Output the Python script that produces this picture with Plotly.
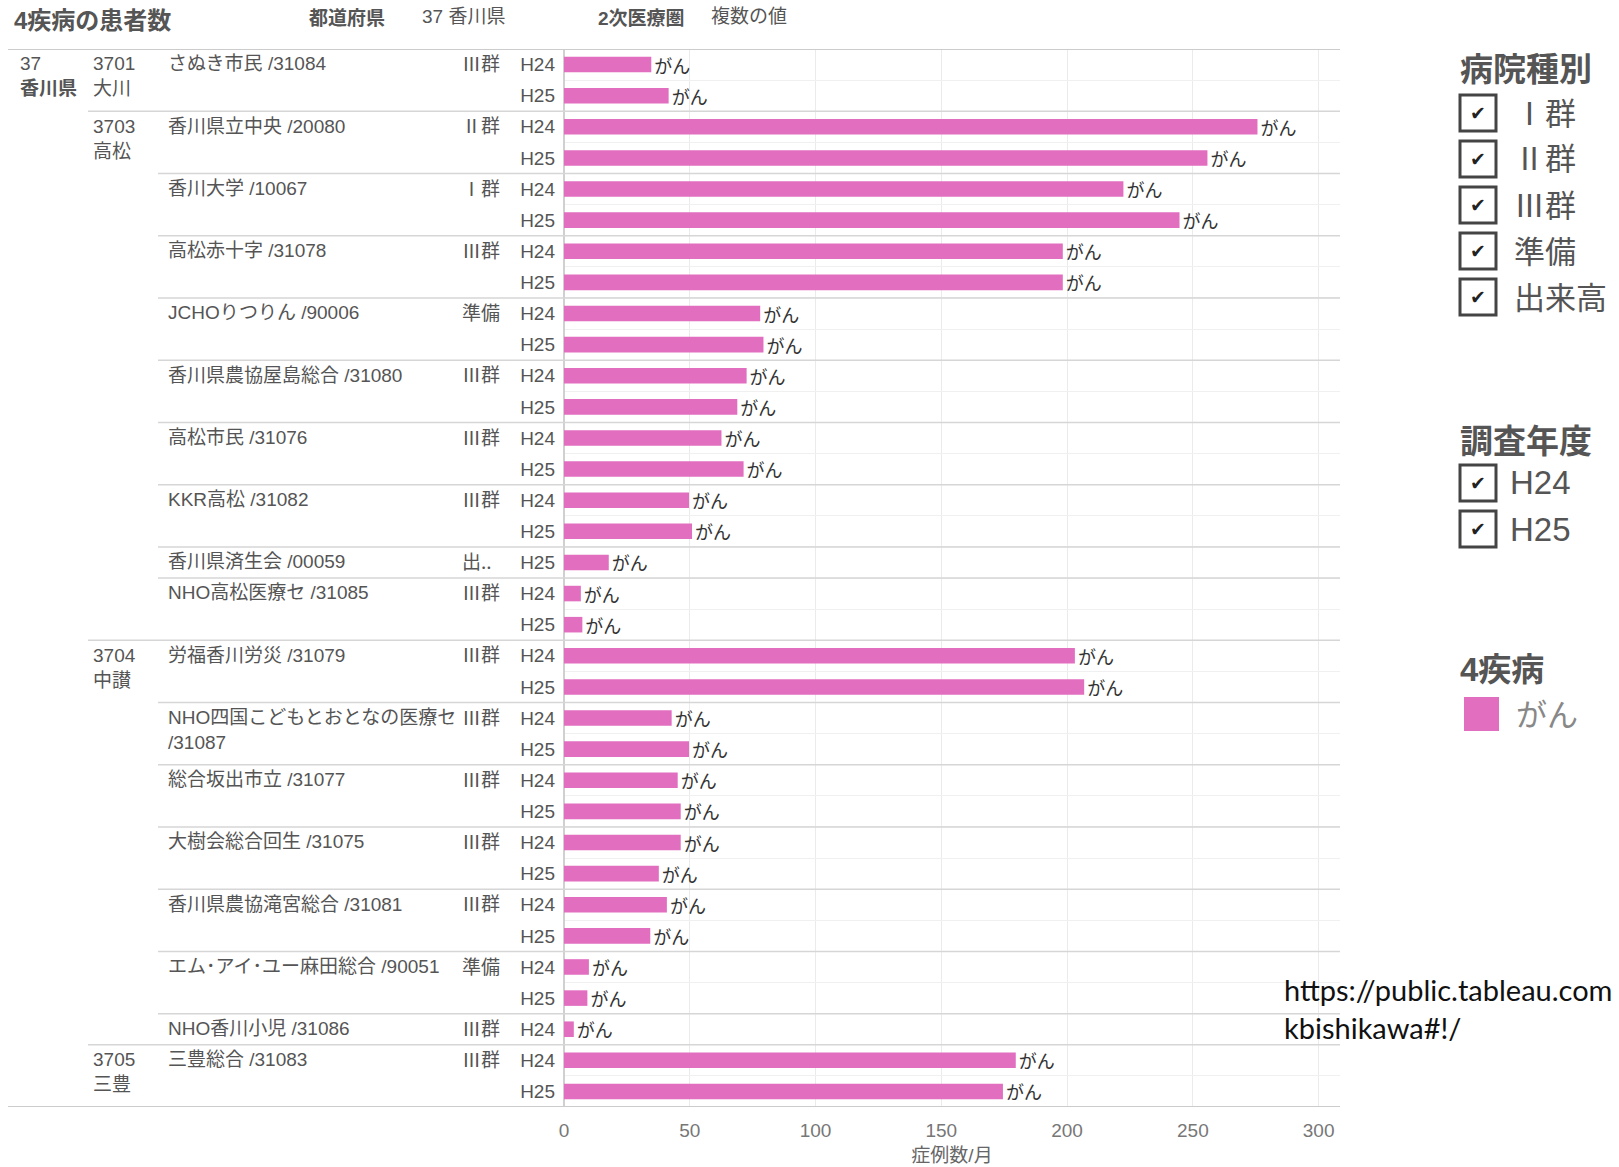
import plotly.graph_objects as go

# ---------------- data ----------------
title_text = "4疾病の患者数"
filter_labels = ["都道府県", "2次医療圏"]
filter_values = ["37 香川県", "複数の値"]

prefecture_code = "37"
prefecture_name = "香川県"

hospital_names = [
    "さぬき市民 /31084",
    "香川県立中央 /20080",
    "香川大学 /10067",
    "高松赤十字 /31078",
    "JCHOりつりん /90006",
    "香川県農協屋島総合 /31080",
    "高松市民 /31076",
    "KKR高松 /31082",
    "香川県済生会 /00059",
    "NHO高松医療セ /31085",
    "労福香川労災 /31079",
    "NHO四国こどもとおとなの医療セ /31087",
    "総合坂出市立 /31077",
    "大樹会総合回生 /31075",
    "香川県農協滝宮総合 /31081",
    "エム･アイ･ユー麻田総合 /90051",
    "NHO香川小児 /31086",
    "三豊総合 /31083",
]
hospital_region_codes = ["3701", "3703", "3703", "3703", "3703", "3703", "3703", "3703", "3703",
                         "3703", "3704", "3704", "3704", "3704", "3704", "3704", "3704", "3705"]
region_names = {"3701": "大川", "3703": "高松", "3704": "中讃", "3705": "三豊"}
hospital_groups = ["Ⅲ群", "Ⅱ群", "Ⅰ群", "Ⅲ群", "準備", "Ⅲ群", "Ⅲ群", "Ⅲ群", "出..",
                   "Ⅲ群", "Ⅲ群", "Ⅲ群", "Ⅲ群", "Ⅲ群", "Ⅲ群", "準備", "Ⅲ群", "Ⅲ群"]
years = ["H24", "H25"]
h24_values = [34.7, 275.7, 222.4, 198.3, 78.0, 72.6, 62.6, 49.7, None,
              6.7, 203.1, 42.8, 45.2, 46.4, 40.9, 9.9, 3.9, 179.6]
h25_values = [41.6, 255.8, 244.7, 198.3, 79.3, 68.9, 71.4, 50.9, 17.8,
              7.3, 206.8, 49.7, 46.4, 37.7, 34.3, 9.3, None, 174.5]
disease_label = "がん"
x_ticks = [0, 50, 100, 150, 200, 250, 300]
x_title = "症例数/月"

legend_group_title = "病院種別"
legend_group_items = ["Ⅰ群", "Ⅱ群", "Ⅲ群", "準備", "出来高"]
legend_year_title = "調査年度"
legend_year_items = ["H24", "H25"]
legend_disease_title = "4疾病"
source_lines = ["https://public.tableau.com", "kbishikawa#!/"]

# ---------------- styles / geometry ----------------
BAR_COLOR = "#E26EC0"
FONT = "Liberation Sans, Noto Sans CJK JP, sans-serif"
CJK = "Noto Sans CJK JP, sans-serif"
TXT = "#555555"
FIG_W, FIG_H = 1619, 1167
L, R, T, B = 564, 1340, 49, 1107


def px_x(px):
    return (px - L) / (R - L)


def px_y(py):
    return 1 - (py - T) / (B - T)


# ---------------- rows ----------------
row_keys, row_years, row_vals, row_hosp = [], [], [], []
for i, name in enumerate(hospital_names):
    for yr, v in zip(years, [h24_values[i], h25_values[i]]):
        if v is None:
            continue
        row_keys.append(f"{i}|{yr}")
        row_years.append(yr)
        row_vals.append(v)
        row_hosp.append(i)
n_rows = len(row_keys)

fig = go.Figure()
fig.add_trace(go.Bar(
    x=row_vals, y=row_keys, orientation="h",
    marker=dict(color=BAR_COLOR, line=dict(width=0)),
    text=[disease_label] * len(row_vals), textposition="outside", constraintext="none",
    textfont=dict(family=CJK, size=18, color="#333333"),
    cliponaxis=False, hoverinfo="x+y",
))

annotations = []
shapes = []

first_row = {}
for idx, h in enumerate(row_hosp):
    first_row.setdefault(h, idx)

OFF = 0.42
annotations.append(dict(xref="paper", yref="y", x=px_x(18), y=-OFF, xanchor="left", yanchor="top",
                        text=f"{prefecture_code}<br><b>{prefecture_name}</b>", showarrow=False, align="left",
                        font=dict(family=FONT, size=19, color=TXT)))

prev_region = None
for i, name in enumerate(hospital_names):
    r0 = first_row[i]
    reg = hospital_region_codes[i]
    if reg != prev_region:
        annotations.append(dict(xref="paper", yref="y", x=px_x(91), y=r0 - OFF, xanchor="left", yanchor="top",
                                text=f"{reg}<br>{region_names[reg]}", showarrow=False, align="left",
                                font=dict(family=FONT, size=19, color=TXT)))
        if prev_region is not None:
            shapes.append(dict(type="line", xref="paper", yref="y", x0=px_x(88), x1=1,
                               y0=r0 - 0.5, y1=r0 - 0.5, line=dict(color="#d6d6d6", width=1.5)))
    elif i > 0:
        shapes.append(dict(type="line", xref="paper", yref="y", x0=px_x(158), x1=1,
                           y0=r0 - 0.5, y1=r0 - 0.5, line=dict(color="#d6d6d6", width=1.5)))
    prev_region = reg
    disp = name.replace(" /", "<br>/") if len(name) > 22 else name
    annotations.append(dict(xref="paper", yref="y", x=px_x(166), y=r0 - OFF, xanchor="left", yanchor="top",
                            text=disp, showarrow=False, align="left",
                            font=dict(family=FONT, size=19, color=TXT)))
    annotations.append(dict(xref="paper", yref="y", x=px_x(460), y=r0 - 0.06, xanchor="left", yanchor="middle",
                            text=hospital_groups[i], showarrow=False, align="left",
                            font=dict(family=CJK, size=19, color=TXT)))

for yv in [-0.5, n_rows - 0.5]:
    shapes.append(dict(type="line", xref="paper", yref="y", x0=px_x(8), x1=1,
                       y0=yv, y1=yv, line=dict(color="#cccccc", width=2)))

# header
annotations.append(dict(xref="paper", yref="paper", x=px_x(12), y=px_y(21), xanchor="left", yanchor="middle",
                        text=f"<b>{title_text}</b>", showarrow=False,
                        font=dict(family=FONT, size=24, color="#555555")))
hdr_x = [(307, 420), (596, 709)]
for (lx, vx), lab, val in zip(hdr_x, filter_labels, filter_values):
    annotations.append(dict(xref="paper", yref="paper", x=px_x(lx), y=px_y(19), xanchor="left", yanchor="middle",
                            text=f"<b>{lab}</b>", showarrow=False,
                            font=dict(family=FONT, size=19, color="#555555")))
    annotations.append(dict(xref="paper", yref="paper", x=px_x(vx), y=px_y(17), xanchor="left", yanchor="middle",
                            text=val, showarrow=False,
                            font=dict(family=FONT, size=19, color="#555555")))

# legends (right panel)
LEG_X = 1458
BOX = 36


def checkbox(cy):
    shapes.append(dict(type="rect", xref="paper", yref="paper",
                       x0=px_x(LEG_X + 2), x1=px_x(LEG_X + 2 + BOX),
                       y0=px_y(cy - BOX / 2), y1=px_y(cy + BOX / 2),
                       line=dict(color="#444444", width=3), fillcolor="white"))
    annotations.append(dict(xref="paper", yref="paper", x=px_x(LEG_X + 2 + BOX / 2), y=px_y(cy),
                            xanchor="center", yanchor="middle", text="<b>✔</b>", showarrow=False,
                            font=dict(family="DejaVu Sans", size=19, color="#222222")))


annotations.append(dict(xref="paper", yref="paper", x=px_x(LEG_X), y=px_y(67), xanchor="left", yanchor="middle",
                        text=f"<b>{legend_group_title}</b>", showarrow=False,
                        font=dict(family=CJK, size=33, color="#555555")))
for k, item in enumerate(legend_group_items):
    cy = 113 + k * 46
    checkbox(cy)
    annotations.append(dict(xref="paper", yref="paper", x=px_x(1512), y=px_y(cy - 2), xanchor="left", yanchor="middle",
                            text=item, showarrow=False, font=dict(family=CJK, size=31, color="#555555")))

annotations.append(dict(xref="paper", yref="paper", x=px_x(LEG_X), y=px_y(439), xanchor="left", yanchor="middle",
                        text=f"<b>{legend_year_title}</b>", showarrow=False,
                        font=dict(family=CJK, size=33, color="#555555")))
for k, item in enumerate(legend_year_items):
    cy = 483 + k * 46
    checkbox(cy)
    annotations.append(dict(xref="paper", yref="paper", x=px_x(1508), y=px_y(cy), xanchor="left", yanchor="middle",
                            text=item, showarrow=False, font=dict(family=FONT, size=33, color="#555555")))

annotations.append(dict(xref="paper", yref="paper", x=px_x(LEG_X), y=px_y(669), xanchor="left", yanchor="middle",
                        text=f"<b>{legend_disease_title}</b>", showarrow=False,
                        font=dict(family=FONT, size=33, color="#555555")))
shapes.append(dict(type="rect", xref="paper", yref="paper",
                   x0=px_x(1464), x1=px_x(1499), y0=px_y(731), y1=px_y(697),
                   line=dict(width=0), fillcolor=BAR_COLOR))
annotations.append(dict(xref="paper", yref="paper", x=px_x(1514), y=px_y(712), xanchor="left", yanchor="middle",
                        text=disease_label, showarrow=False, font=dict(family=CJK, size=31, color="#888888")))

# source url
for k, line in enumerate(source_lines):
    annotations.append(dict(xref="paper", yref="paper", x=px_x(1282), y=px_y(989 + k * 38), xanchor="left",
                            yanchor="middle", text=line, showarrow=False,
                            font=dict(family="Lato, Open Sans, sans-serif", size=29, color="#111111")))

fig.update_layout(
    width=FIG_W, height=FIG_H,
    margin=dict(l=L, r=FIG_W - R, t=T, b=FIG_H - B, autoexpand=False),
    paper_bgcolor="white", plot_bgcolor="white",
    showlegend=False, bargap=0.5,
    font=dict(family=FONT, color=TXT),
    annotations=annotations, shapes=shapes,
    xaxis=dict(range=[0, 308.5], tickvals=x_ticks, ticktext=[str(t) for t in x_ticks],
               showgrid=True, gridcolor="#ebebeb", gridwidth=1,
               zeroline=True, zerolinecolor="#d0d0d0", zerolinewidth=1.5,
               showline=False, ticks="", ticklabelstandoff=10,
               tickfont=dict(family=FONT, size=19, color="#777777"),
               title=dict(text=x_title, standoff=8, font=dict(family=FONT, size=19, color="#666666"))),
    yaxis=dict(type="category", categoryorder="array", categoryarray=row_keys,
               range=[n_rows - 0.5, -0.5], tickvals=row_keys, ticktext=row_years,
               tickson="boundaries", showgrid=True, gridcolor="#f0f0f0", gridwidth=1,
               ticks="", showline=False, zeroline=False, ticklabelstandoff=8,
               tickfont=dict(family=FONT, size=19, color=TXT)),
)

fig.write_html("out.html", config={"displayModeBar": False},
               post_script="document.body.style.margin='0';document.body.style.overflow='hidden';")
